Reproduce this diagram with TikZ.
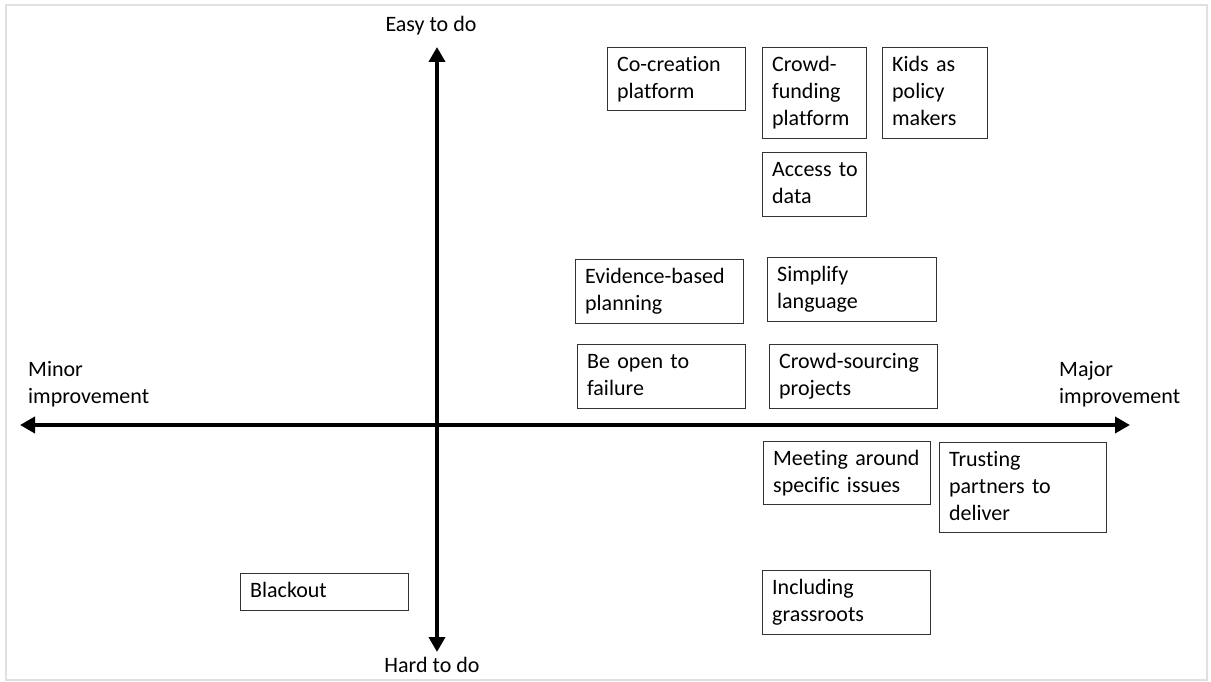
\documentclass[tikz,border=0pt]{standalone}
\usepackage{fontspec}
\setmainfont{Carlito}[Ligatures={NoCommon}]
\usetikzlibrary{arrows.meta}

\begin{document}
\begin{tikzpicture}[x=1pt,y=-1pt,
  idea/.style={draw=black!80,line width=1.3pt,anchor=north west,align=left,
    inner xsep=9.5pt,inner ysep=0pt,font=\fontsize{22}{27}\selectfont,
    execute at begin node=\strut,execute at end node=\strut},
  axislabel/.style={inner sep=0pt,align=left,font=\fontsize{22}{27}\selectfont},
  axis/.style={line width=4.5pt,{Triangle[length=15pt,width=16pt]}-{Triangle[length=15pt,width=16pt]}}]
\useasboundingbox (0,0) rectangle (1211,682);
\draw[black!12,line width=2pt] (6,5) rectangle (1207,680);
% axes
\coordinate (west) at (20,425);
\coordinate (east) at (1130,425);
\coordinate (north) at (437,47);
\coordinate (south) at (437,652);
\draw[axis] (west) -- (east);
\draw[axis] (north) -- (south);
\node[axislabel,anchor=base] (easy) at (431,32) {Easy to do};
\node[axislabel,anchor=base] (hard) at (432,672) {Hard to do};
\node[axislabel,anchor=north west] (minor) at (28,357) {\strut Minor\\improvement};
\node[axislabel,anchor=north west] (major) at (1059,357) {\strut Major\\improvement};
% ideas
\node[idea,text width=119pt,minimum height=63pt] (cocreation) at (607,47) {Co-creation\\platform};
\node[idea,text width=85pt,minimum height=91pt] (crowdfunding) at (762,47) {Crowd-\\funding\\platform};
\node[idea,text width=86pt,minimum height=91pt] (kids) at (882,47) {Kids~as\\policy\\makers};
\node[idea,text width=85pt,minimum height=64pt] (access) at (762,152) {Access~to\\data};
\node[idea,text width=149pt,minimum height=64pt] (evidence) at (575,259) {Evidence-based\\planning};
\node[idea,text width=150pt,minimum height=64pt] (simplify) at (767,257) {Simplify\\language};
\node[idea,text width=149pt,minimum height=64pt] (beopen) at (577,344) {Be~open~to\\failure};
\node[idea,text width=149pt,minimum height=64pt] (crowdsourcing) at (769,344) {Crowd-sourcing\\projects};
\node[idea,text width=148pt,minimum height=63pt] (meeting) at (763,441) {Meeting~around\\specific~issues};
\node[idea,text width=148pt,minimum height=90pt] (trusting) at (939,442) {Trusting\\partners~to\\deliver};
\node[idea,text width=149pt,minimum height=37pt] (blackout) at (240,573) {Blackout};
\node[idea,text width=149pt,minimum height=64pt] (including) at (762,570) {Including\\grassroots};
\end{tikzpicture}
\end{document}
